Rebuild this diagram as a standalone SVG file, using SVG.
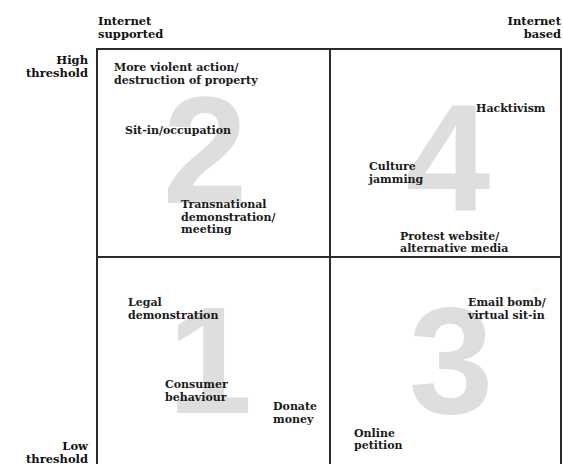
<svg xmlns="http://www.w3.org/2000/svg" width="563" height="464" viewBox="0 0 563 464">
  <style>
    .lbl { font-family: "DejaVu Serif", "Liberation Serif", serif; font-weight: bold; font-size: 11px; fill: #1a1a1a; }
    .axis { font-family: "DejaVu Serif", "Liberation Serif", serif; font-weight: bold; font-size: 11.5px; fill: #111; }
    .big { font-family: "Liberation Sans", Arial, sans-serif; font-weight: bold; font-size: 152px; fill: #dedede; text-anchor: middle; }
    .grid { stroke: #2a2a2a; stroke-width: 2; fill: none; }
  </style>

  <rect width="563" height="464" fill="#ffffff"/>

  <!-- axis captions -->
  <g id="axis-labels">
    <text class="axis" x="98" y="25">Internet</text>
    <text class="axis" x="98" y="38">supported</text>
    <text class="axis" x="561" y="25" text-anchor="end">Internet</text>
    <text class="axis" x="561" y="38" text-anchor="end">based</text>
    <text class="axis" x="88" y="64" text-anchor="end">High</text>
    <text class="axis" x="88" y="77" text-anchor="end">threshold</text>
    <text class="axis" x="88" y="450" text-anchor="end">Low</text>
    <text class="axis" x="88" y="463" text-anchor="end">threshold</text>
  </g>

  <!-- quadrant grid -->
  <g id="grid">
    <path class="grid" d="M97,464 V49 H561 V464"/>
    <line class="grid" x1="330" y1="49" x2="330" y2="464"/>
    <line class="grid" x1="97" y1="257" x2="561" y2="257"/>
  </g>

  <!-- quadrant 2: high threshold, internet supported -->
  <g id="quadrant-2">
    <text class="big" x="205" y="203">2</text>
    <text class="lbl" x="114" y="71">More violent action/</text>
    <text class="lbl" x="114" y="84">destruction of property</text>
    <text class="lbl" x="125" y="134">Sit-in/occupation</text>
    <text class="lbl" x="181" y="208">Transnational</text>
    <text class="lbl" x="181" y="221">demonstration/</text>
    <text class="lbl" x="181" y="233">meeting</text>
  </g>

  <!-- quadrant 4: high threshold, internet based -->
  <g id="quadrant-4">
    <text class="big" x="448" y="210">4</text>
    <text class="lbl" x="476" y="112">Hacktivism</text>
    <text class="lbl" x="369" y="170">Culture</text>
    <text class="lbl" x="369" y="183">jamming</text>
    <text class="lbl" x="400" y="240">Protest website/</text>
    <text class="lbl" x="400" y="252">alternative media</text>
  </g>

  <!-- quadrant 1: low threshold, internet supported -->
  <g id="quadrant-1">
    <text class="big" x="210" y="413">1</text>
    <text class="lbl" x="128" y="306">Legal</text>
    <text class="lbl" x="128" y="319">demonstration</text>
    <text class="lbl" x="165" y="388">Consumer</text>
    <text class="lbl" x="165" y="401">behaviour</text>
    <text class="lbl" x="273" y="410">Donate</text>
    <text class="lbl" x="273" y="423">money</text>
  </g>

  <!-- quadrant 3: low threshold, internet based -->
  <g id="quadrant-3">
    <text class="big" x="451" y="413">3</text>
    <text class="lbl" x="468" y="306">Email bomb/</text>
    <text class="lbl" x="468" y="319">virtual sit-in</text>
    <text class="lbl" x="354" y="437">Online</text>
    <text class="lbl" x="354" y="449">petition</text>
  </g>
</svg>
